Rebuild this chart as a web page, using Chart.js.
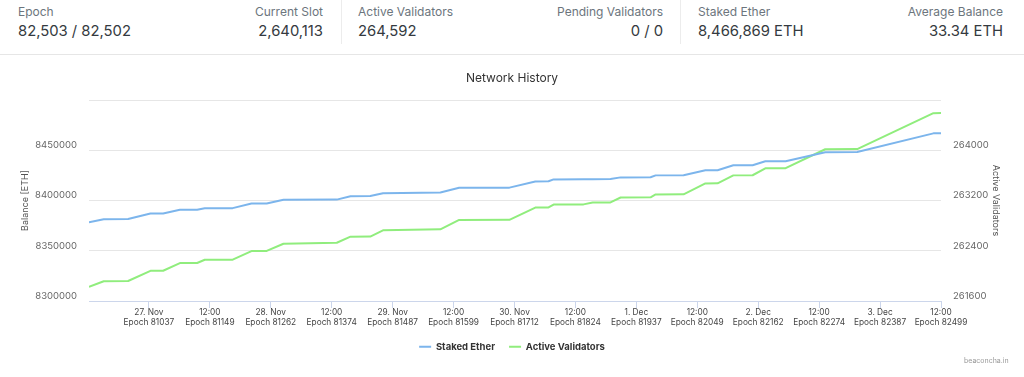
<!DOCTYPE html>
<html>
<head>
<meta charset="utf-8">
<script src="https://cdn.jsdelivr.net/npm/chart.js@4.4.1/dist/chart.umd.min.js"></script>
<style>
  html, body { margin: 0; padding: 0; background: #fff; }
  body { width: 1024px; height: 377px; position: relative; overflow: hidden; font-family: Inter, "Noto Sans", sans-serif; }
  .stat { position: absolute; top: 0; }
  .stat .lbl { position: absolute; top: 4px; white-space: nowrap; font-size: 12px; line-height: 16px; color: #6c757d; }
  .stat .val { position: absolute; top: 21px; white-space: nowrap; font-size: 14.8px; line-height: 20px; color: #343a40; }
  .r .lbl, .r .val { right: 0; }
  .sep { position: absolute; top: 0; width: 1px; height: 44px; background: #ececec; }
  #bar { position: absolute; left: 0; top: 54px; width: 1024px; height: 1px; background: #e6e6e6; }
  #wrap { position: absolute; left: 0; top: 55px; width: 1024px; height: 322px; }
  #credit { position: absolute; left: 964px; top: 356px; font-size: 7px; line-height: 10px; color: #999; }
</style>
</head>
<body>
<div class="stat" style="left:18px"><div class="lbl">Epoch</div><div class="val">82,503 / 82,502</div></div>
<div class="stat r" style="right:701px"><div class="lbl">Current Slot</div><div class="val">2,640,113</div></div>
<div class="sep" style="left:341px"></div>
<div class="stat" style="left:358px"><div class="lbl">Active Validators</div><div class="val">264,592</div></div>
<div class="stat r" style="right:361px"><div class="lbl">Pending Validators</div><div class="val">0 / 0</div></div>
<div class="sep" style="left:680px"></div>
<div class="stat" style="left:698px"><div class="lbl">Staked Ether</div><div class="val">8,466,869 ETH</div></div>
<div class="stat r" style="right:21px"><div class="lbl">Average Balance</div><div class="val">33.34 ETH</div></div>
<div id="bar"></div>
<div id="wrap"><canvas id="history"></canvas></div>
<div id="credit">beaconcha.in</div>
<script>
// hours since 26 Nov 00:00
const hours = [12.2, 15.1, 19.9, 24.3, 26.8, 30.1, 33.5, 35.0, 40.5, 44.2, 47.2, 50.5, 61.0, 63.7,
    67.6, 70.1, 81.4, 85.1, 95.0, 100.1, 102.7, 103.7, 109.6, 111.4, 114.9, 116.9, 122.8, 123.8,
    129.3, 133.6, 136.0, 139.1, 142.9, 145.4, 149.4, 157.2, 163.5, 178.5, 180.0];
const stakedEther = [8378300, 8381300, 8381500, 8387000, 8387100, 8390700, 8390800, 8392300, 8392400,
    8397000, 8397100, 8400700, 8400900, 8404300, 8404400, 8407300, 8408000, 8412700, 8412800,
    8419000, 8419100, 8421000, 8421100, 8421200, 8421300, 8423000, 8423100, 8425000, 8425100,
    8430000, 8430100, 8435000, 8435100, 8439000, 8439100, 8448000, 8448200, 8466800, 8466869];
const activeValidators = [261824, 261915, 261918, 262080, 262082, 262203, 262205, 262256, 262258,
    262395, 262397, 262512, 262528, 262624, 262626, 262725, 262741, 262891, 262893,
    263088, 263090, 263136, 263138, 263168, 263170, 263248, 263250, 263296, 263298,
    263472, 263474, 263600, 263602, 263712, 263714, 264016, 264018, 264590, 264592];

const tickHours = [24, 36, 48, 60, 72, 84, 96, 108, 120, 132, 144, 156, 168, 180];
const tickDates = ["27. Nov", "12:00", "28. Nov", "12:00", "29. Nov", "12:00", "30. Nov",
    "12:00", "1. Dec", "12:00", "2. Dec", "12:00", "3. Dec", "12:00"];
const tickEpochs = [81037, 81149, 81262, 81374, 81487, 81599, 81712, 81824, 81937, 82049,
    82162, 82274, 82387, 82499];

const blue = "#7cb5ec", green = "#90ed7d";
const fontFam = "Inter, 'Noto Sans', sans-serif";

const ctx = document.getElementById("history");
new Chart(ctx, {
    type: "line",
    data: {
        datasets: [{
            label: "Staked Ether",
            data: hours.map((h, i) => ({x: h, y: stakedEther[i]})),
            borderColor: blue,
            backgroundColor: blue,
            borderWidth: 2,
            borderJoinStyle: "round",
            pointRadius: 0,
            yAxisID: "yEth"
        }, {
            label: "Active Validators",
            data: hours.map((h, i) => ({x: h, y: activeValidators[i]})),
            borderColor: green,
            backgroundColor: green,
            borderWidth: 2,
            borderJoinStyle: "round",
            pointRadius: 0,
            yAxisID: "yVal"
        }]
    },
    options: {
        responsive: true,
        maintainAspectRatio: false,
        animation: false,
        layout: {padding: {top: 0, bottom: 15.5, left: 0, right: 0}},
        plugins: {
            title: {
                display: true,
                text: "Network History",
                color: "#333",
                font: {family: fontFam, size: 12, weight: "normal"},
                padding: {top: 16.3, bottom: 14.3}
            },
            legend: {
                position: "bottom",
                labels: {
                    boxWidth: 12,
                    boxHeight: 2,
                    padding: 14,
                    color: "#333",
                    font: {family: fontFam, size: 9.5, weight: "bold"},
                    generateLabels: chart => Chart.defaults.plugins.legend.labels.generateLabels(chart)
                        .map(l => Object.assign(l, {lineWidth: 0}))
                }
            },
            tooltip: {enabled: false}
        },
        scales: {
            x: {
                type: "linear",
                min: hours[0],
                max: hours[hours.length - 1],
                afterBuildTicks: s => { s.ticks = tickHours.map(v => ({value: v})); },
                afterFit: s => { s.height = 27; },
                grid: {drawOnChartArea: false, drawTicks: true, tickLength: 7, color: "#ccd6eb"},
                border: {color: "#ccd6eb"},
                ticks: {
                    autoSkip: false,
                    maxRotation: 0,
                    padding: 0,
                    color: "#444",
                    font: {family: fontFam, size: 8.3, lineHeight: "10px"},
                    callback: (v, i) => [tickDates[i], "Epoch " + tickEpochs[i]]
                }
            },
            yEth: {
                position: "left",
                min: 8300000,
                max: 8500000,
                afterFit: s => { s.width = 89; },
                grid: {color: "#e6e6e6", drawTicks: false},
                border: {display: false},
                ticks: {
                    stepSize: 50000,
                    padding: 12,
                    labelOffset: -5,
                    color: "#666",
                    font: {family: fontFam, size: 9.5},
                    callback: v => v >= 8500000 ? "" : String(v)
                },
                title: {
                    display: true,
                    text: "Balance [ETH]",
                    color: "#555",
                    font: {family: fontFam, size: 9},
                    padding: {top: 19.6, bottom: 0}
                }
            },
            yVal: {
                position: "right",
                min: 261600,
                max: 264800,
                afterFit: s => { s.width = 83; },
                grid: {drawOnChartArea: false, drawTicks: false},
                border: {display: false},
                ticks: {
                    stepSize: 800,
                    padding: 12,
                    labelOffset: -5,
                    color: "#666",
                    font: {family: fontFam, size: 9.5},
                    callback: v => v >= 264800 ? "" : String(v)
                },
                title: {
                    display: true,
                    text: "Active Validators",
                    color: "#555",
                    font: {family: fontFam, size: 9},
                    padding: {top: 22.6, bottom: 0}
                }
            }
        }
    }
});
</script>
</body>
</html>
